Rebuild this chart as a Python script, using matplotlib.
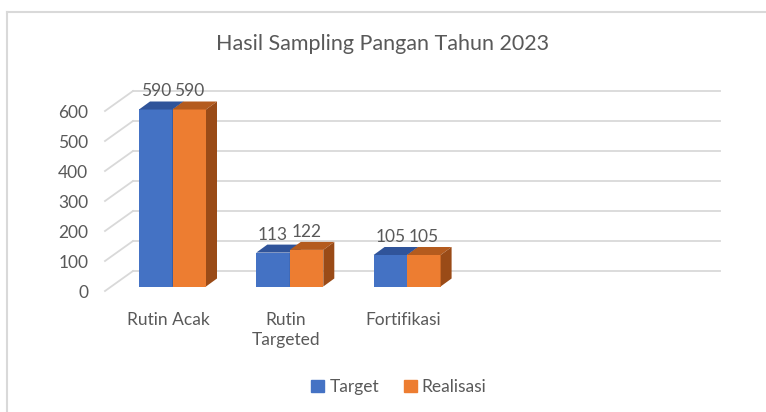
import matplotlib
matplotlib.use("Agg")
import matplotlib.pyplot as plt
from matplotlib.patches import Polygon, Patch
from matplotlib.lines import Line2D

# ---- data ----
categories = ["Rutin Acak", "Rutin\nTargeted", "Fortifikasi"]
target = [590, 113, 105]
realisasi = [590, 122, 105]
series_names = ["Target", "Realisasi"]
yticks = [0, 100, 200, 300, 400, 500, 600]
title = "Hasil Sampling Pangan Tahun 2023"
n_slots = 5  # chart's category axis has 5 slots (2 empty)

# ---- style ----
W, H, DPI = 766, 412, 100
TXT = "#595959"
GRID = "#d9d9d9"
FONT = "Lato"
FS = 12.5
plt.rcParams['font.family'] = [FONT, 'DejaVu Sans']

blue = dict(front="#4472C4", top="#30549a", side="#2c4d8c")
orange = dict(front="#ED7D31", top="#b45b1e", side="#9a4b17")
colors = [blue, orange]

fig = plt.figure(figsize=(W / DPI, H / DPI), dpi=DPI)
fig.patch.set_facecolor("white")

# chart frame (left & top edges visible)
fig.add_artist(Line2D([7 / W, 7 / W], [0, 1 - 12 / H], color=GRID, lw=1.5, transform=fig.transFigure))
fig.add_artist(Line2D([7 / W, 1], [1 - 12 / H, 1 - 12 / H], color=GRID, lw=1.5, transform=fig.transFigure))

# axes = front plane of the 3D box
x0, x1 = 105, 691.5
y0, y1 = 291, 111
ax = fig.add_axes([x0 / W, 1 - y0 / H, (x1 - x0) / W, (y0 - y1) / H])
ax.set_xlim(-0.5, n_slots - 0.5)
ax.set_ylim(0, 600)
ax.set_facecolor("none")
for s in ax.spines.values():
    s.set_visible(False)

pxx = (x1 - x0) / n_slots      # px per category
pxy = (y0 - y1) / 600.0        # px per value unit

def dx(px):
    return px / pxx

def dy(px):
    return px / pxy

# back wall / side wall gridlines
back_dx, back_dy = dx(28), dy(20)
right_end = -0.5 + dx(720 - x0)
for v in yticks:
    ax.plot([-0.5, -0.5 + back_dx], [v, v + back_dy], color=GRID, lw=1.3, clip_on=False, zorder=1)
    ax.plot([-0.5 + back_dx, right_end], [v + back_dy, v + back_dy], color=GRID, lw=1.3, clip_on=False, zorder=1)

# bars
bar_w = dx(33.5)
off_x, off_y = dx(8.85), dy(4.5)
dep_x, dep_y = dx(11), dy(8)
series = [target, realisasi]
for si, vals in enumerate(series):
    c = colors[si]
    for i, v in enumerate(vals):
        left = i + off_x - bar_w + si * bar_w
        base = off_y
        top = base + v
        ax.bar(left, v, width=bar_w, bottom=base, align="edge", color=c["front"],
               lw=0, zorder=3 + si, clip_on=False)
        ax.add_patch(Polygon([(left, top), (left + bar_w, top), (left + bar_w + dep_x, top + dep_y),
                              (left + dep_x, top + dep_y)], closed=True, color=c["top"], lw=0,
                             zorder=3 + si, clip_on=False))
        ax.add_patch(Polygon([(left + bar_w, base), (left + bar_w + dep_x, base + dep_y),
                              (left + bar_w + dep_x, top + dep_y), (left + bar_w, top)], closed=True,
                             color=c["side"], lw=0, zorder=3 + si, clip_on=False))
        ax.text(left + bar_w / 2, top + dy(10), str(v), ha="center", va="bottom",
                fontsize=FS, color=TXT, zorder=10)

# ticks
ax.set_yticks(yticks)
ax.set_yticklabels([str(t) for t in yticks], fontsize=FS, color=TXT)
ax.tick_params(axis="y", length=0, pad=12)
ax.set_xticks([i + 0.04 for i in range(len(categories))])
ax.set_xticklabels(categories, fontsize=FS, color=TXT, linespacing=1.3)
ax.tick_params(axis="x", length=0, pad=15)

fig.text(383 / W, 1 - 44 / H, title, ha="center", va="center", fontsize=15.5, color=TXT)

handles = [Patch(color=blue["front"]), Patch(color=orange["front"])]
fig.legend(handles, series_names, loc="center", bbox_to_anchor=(399 / W, 1 - 387 / H), ncol=2,
           frameon=False, fontsize=FS, labelcolor=TXT, handlelength=0.75, handleheight=0.75,
           handletextpad=0.3, columnspacing=1.4)

fig.savefig("out.png", dpi=DPI)
